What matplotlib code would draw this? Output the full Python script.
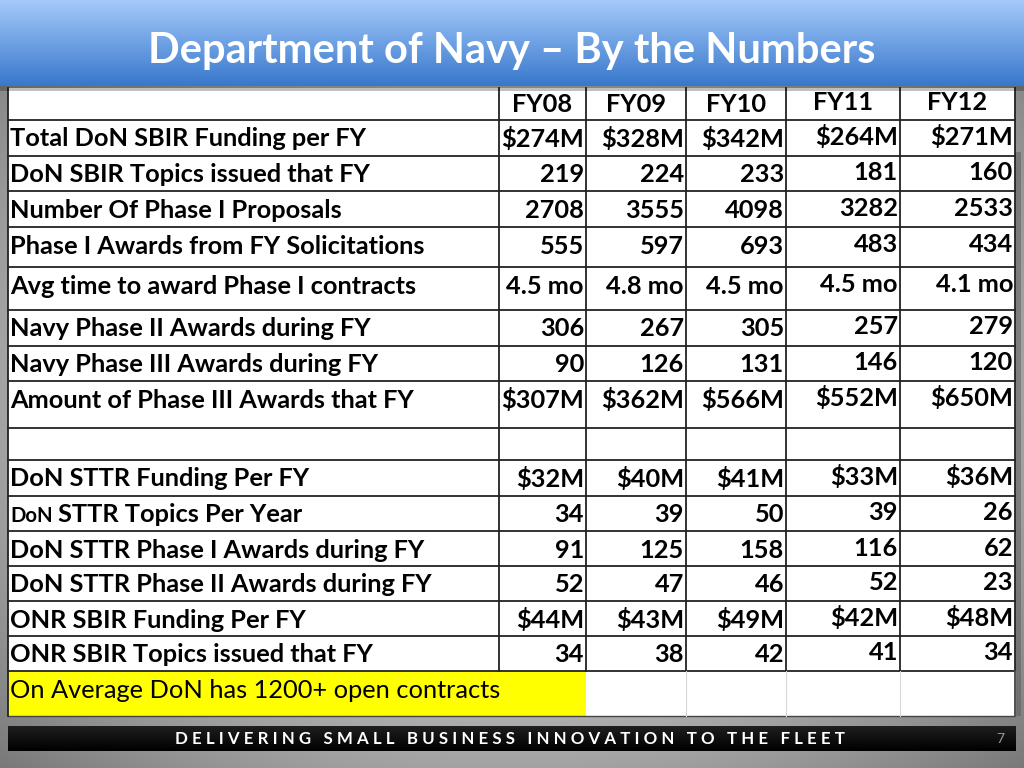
import numpy as np
import matplotlib
matplotlib.use('agg')
import matplotlib.pyplot as plt
from matplotlib.patches import Rectangle

plt.rcParams['font.family'] = ['Lato', 'DejaVu Sans']

# ---- data ----
years = ['FY08', 'FY09', 'FY10', 'FY11', 'FY12']
sbir_funding_m = [274, 328, 342, 264, 271]
sbir_topics = [219, 224, 233, 181, 160]
phase1_proposals = [2708, 3555, 4098, 3282, 2533]
phase1_awards = [555, 597, 693, 483, 434]
avg_award_time_mo = [4.5, 4.8, 4.5, 4.5, 4.1]
phase2_awards = [306, 267, 305, 257, 279]
phase3_awards = [90, 126, 131, 146, 120]
phase3_amount_m = [307, 362, 566, 552, 650]
sttr_funding_m = [32, 40, 41, 33, 36]
sttr_topics = [34, 39, 50, 39, 26]
sttr_phase1 = [91, 125, 158, 116, 62]
sttr_phase2 = [52, 47, 46, 52, 23]
onr_funding_m = [44, 43, 49, 42, 48]
onr_topics = [34, 38, 42, 41, 34]

title = 'Department of Navy \u2013 By the Numbers'
footer = 'DELIVERING SMALL BUSINESS INNOVATION TO THE FLEET'
note = 'On Average DoN has 1200+ open contracts'
page = '7'

money = lambda v: f'${v}M'
plain = lambda v: f'{v}'
months = lambda v: f'{v} mo'

rows = [
    ('Total DoN SBIR Funding per FY', sbir_funding_m, money),
    ('DoN SBIR Topics issued that FY', sbir_topics, plain),
    ('Number Of Phase I Proposals', phase1_proposals, plain),
    ('Phase I Awards from FY Solicitations', phase1_awards, plain),
    ('Avg time to award Phase I contracts', avg_award_time_mo, months),
    ('Navy Phase II Awards during FY', phase2_awards, plain),
    ('Navy Phase III Awards during FY', phase3_awards, plain),
    ('Amount of Phase III Awards that FY', phase3_amount_m, money),
    ('', None, None),
    ('DoN STTR Funding Per FY', sttr_funding_m, money),
    ('DoN STTR Topics Per Year', sttr_topics, plain),
    ('DoN STTR Phase I Awards during FY', sttr_phase1, plain),
    ('DoN STTR Phase II Awards during FY', sttr_phase2, plain),
    ('ONR SBIR Funding Per FY', onr_funding_m, money),
    ('ONR SBIR Topics issued that FY', onr_topics, plain),
]

# ---- layout (pixels) ----
W, H = 1024, 768
col_x = [8, 499, 586, 686, 786, 900, 1015]
row_y = [88, 120, 156, 191, 227, 267, 310, 346, 381, 428, 460, 496, 531, 566, 601, 636, 671, 716]

fig = plt.figure(figsize=(W / 100, H / 100), dpi=100)
ax = fig.add_axes([0, 0, 1, 1])
ax.set_xlim(0, W)
ax.set_ylim(H, 0)
ax.axis('off')

# slide background: grey, lighter in the middle
yy, xx = np.mgrid[0:H, 0:W]
r = np.sqrt(((xx - W / 2) / (W * 0.7)) ** 2 + ((yy - H / 2) / (H * 0.7)) ** 2)
bg = np.clip(0.86 - 0.38 * r ** 1.6, 0, 1)
ax.imshow(np.dstack([bg, bg, bg]), extent=(0, W, H, 0), zorder=0, aspect='auto')

# table body
ax.add_patch(Rectangle((col_x[0], row_y[0]), col_x[-1] - col_x[0], row_y[-1] - row_y[0],
                       facecolor='white', edgecolor='none', zorder=1))
# shadow on the right of the table
ax.add_patch(Rectangle((col_x[-1] + 1, row_y[1] + 32), 5, row_y[-1] - row_y[1] - 32,
                       facecolor='#5a5a5a', edgecolor='none', alpha=0.5, zorder=1))
ax.add_patch(Rectangle((col_x[0], row_y[-2]), col_x[2] - col_x[0], row_y[-1] - row_y[-2],
                       facecolor='#ffff00', edgecolor='none', zorder=1.5))

lw = 1.3
for y in row_y[1:-1]:
    ax.plot([col_x[0], col_x[-1]], [y, y], color='#222222', lw=lw, zorder=2)
ax.plot([col_x[0], col_x[-1]], [row_y[-1], row_y[-1]], color='#444444', lw=1.0, zorder=2)
ax.plot([col_x[0], col_x[0]], [row_y[0], row_y[-1]], color='#222222', lw=lw, zorder=2)
for x in col_x[1:]:
    ax.plot([x, x], [row_y[0], row_y[-2]], color='#222222', lw=lw, zorder=2)
for x in col_x[3:]:
    ax.plot([x, x], [row_y[-2], row_y[-1]], color='#d8d8d8', lw=0.8, zorder=2)
ax.plot([col_x[-1], col_x[-1]], [row_y[-2], row_y[-1]], color='#444444', lw=lw, zorder=2)

fs = 18.3
txt_kw = dict(fontsize=fs, fontweight='bold', color='black', va='center', zorder=3)
col_dy = [0, 0, 0, -2, -2]
top_pad = 19  # text sits near the top of each cell, like in the slide

# header row
for j, yr in enumerate(years):
    xc = (col_x[j + 1] + col_x[j + 2]) / 2
    ax.text(xc, row_y[0] + 17 + col_dy[j], yr, ha='center', **txt_kw)

fig.canvas.draw()
renderer = fig.canvas.get_renderer()
for i, (label, vals, fmt) in enumerate(rows):
    yc = row_y[i + 1] + top_pad
    if label.startswith('DoN STTR Topics'):
        t1 = ax.text(10, yc + 1, 'DoN', ha='left', **{**txt_kw, 'fontsize': fs * 0.8})
        bb = t1.get_window_extent(renderer)
        x1 = ax.transData.inverted().transform((bb.x1, bb.y0))[0]
        ax.text(x1 + 5, yc, label[4:], ha='left', **txt_kw)
    elif label:
        ax.text(10, yc, label, ha='left', **txt_kw)
    if vals is None:
        continue
    for j, v in enumerate(vals):
        ax.text(col_x[j + 2] - 2, yc + col_dy[j], fmt(v), ha='right', **txt_kw)

ax.text(10, row_y[-2] + 19, note, ha='left', va='center',
        fontsize=18.3, color='black', zorder=3)

# title bar
grad = np.linspace(0, 1, 100)[:, None]
top = np.array([0.64, 0.79, 0.98])
bot = np.array([0.22, 0.47, 0.80])
bar = top[None, None, :] * (1 - grad[..., None]) + bot[None, None, :] * grad[..., None]
bar = np.repeat(bar, 2, axis=1)
ax.add_patch(Rectangle((0, 86), W, 5, facecolor='black', alpha=0.25, edgecolor='none', zorder=4))
ax.imshow(bar, extent=(0, W, 86, 0), zorder=5, aspect='auto')
ax.text(W / 2, 51, title, ha='center', va='center', fontsize=30, fontweight='bold',
        color='white', zorder=6)

# footer bar
fbar = np.linspace(0.12, 0.0, 50)[:, None]
fbar = np.dstack([np.repeat(fbar, 2, axis=1)] * 3)
ax.imshow(fbar, extent=(8, 1016, 751, 726), zorder=4, aspect='auto')
spaced = '   '.join(' '.join(w) for w in footer.split())
ax.text(510, 739, spaced, ha='center', va='center', fontsize=12.2, fontweight='bold',
        color='white', zorder=6)
ax.text(1000, 739, page, ha='center', va='center', fontsize=10, color='#9a9a9a', zorder=6)

fig.savefig('out.png', dpi=100)
